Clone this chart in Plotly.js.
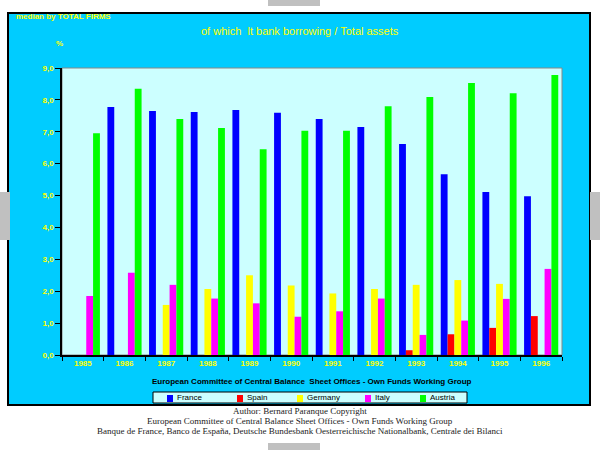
<!DOCTYPE html>
<html><head><meta charset="utf-8">
<script src="https://cdn.plot.ly/plotly-3.0.1.min.js"></script>
<style>body{margin:0;background:#fff}</style></head>
<body><div id="c" style="width:600px;height:450px"></div>
<script>
const years = ["1985","1986","1987","1988","1989","1990","1991","1992","1993","1994","1995","1996"];
const france  = [null,7.78,7.65,7.62,7.68,7.6,7.4,7.15,6.62,5.67,5.11,4.98];
const spain   = [null,null,null,null,null,null,null,null,0.15,0.65,0.85,1.22];
const germany = [null,null,1.57,2.07,2.5,2.18,1.93,2.07,2.2,2.35,2.23,null];
const italy   = [1.85,2.58,2.2,1.77,1.62,1.2,1.37,1.77,0.63,1.08,1.76,2.7];
const austria = [6.95,8.35,7.4,7.12,6.45,7.03,7.03,7.8,8.09,8.53,8.21,8.78];
const yTicks = [0,1,2,3,4,5,6,7,8,9];
const yTickText = yTicks.map(v=>v.toFixed(1).replace('.',','));
const names = ["France","Spain","Germany","Italy","Austria"];
const colors = ["#0000FF","#FF0000","#FFFF00","#FF00FF","#00FF00"];
const values = [france,spain,germany,italy,austria];

const traces = names.map((n,i)=>({type:'bar',name:n,x:years,y:values[i],marker:{color:colors[i],line:{width:0}}}));

const X=px=>(px-62)/500, Y=py=>(355-py)/287;
const rect=(x0,y0,x1,y1,fill,line,layer)=>({type:'rect',xref:'paper',yref:'paper',layer:layer||'below',x0:X(x0),x1:X(x1),y0:Y(y1),y1:Y(y0),fillcolor:fill,line:line||{width:0}});
const ann=(px,py,t,f,anchor)=>({xref:'paper',yref:'paper',x:X(px),y:Y(py),text:t,showarrow:false,xanchor:anchor||'left',yanchor:'middle',font:f});
const yb={family:'Liberation Sans, Arial',size:8,color:'#FFFF00',weight:'bold'};
const serif={family:'Liberation Serif, Times New Roman',size:9,color:'#222'};
const lf={family:'Liberation Sans, Arial',size:8,color:'#000'};

const legX=[167,237,297,365,420];
const shapes=[
  rect(8,13,590,405,'#00CCFF',{color:'#000',width:2}),
  rect(62,68,562,355,'#CCFFFF',{color:'#888',width:1}),
  rect(268,0,320,6,'#C0C0C0'),rect(268,443,320,450,'#C0C0C0'),
  rect(0,192,10,240,'#C0C0C0'),rect(590,192,600,240,'#C0C0C0'),
  rect(153,392,467,403,'#CCFFFF',{color:'#000',width:1},'above')
];
const anns=[
  ann(14,17,'median by TOTAL FIRMS',yb),
  ann(300,31,'of which  lt bank borrowing / Total assets',{family:'Liberation Sans, Arial',size:11,color:'#FFFF00'},'center'),
  ann(54,43,'%',yb),
  ann(312,381,'European Committee of Central Balance  Sheet Offices - Own Funds Working Group',{family:'Liberation Sans, Arial',size:8,color:'#000',weight:'bold'},'center'),
  ann(300,411,'Author: Bernard Paranque Copyright',serif,'center'),
  ann(300,421,'European Committee of Central Balance Sheet Offices - Own Funds Working Group',serif,'center'),
  ann(300,431,'Banque de France, Banco de España, Deutsche Bundesbank Oesterreichische Nationalbank, Centrale dei Bilanci',serif,'center')
];
names.forEach((n,i)=>{
  shapes.push(rect(legX[i],395,legX[i]+6,402,colors[i],{width:0},'above'));
  anns.push(ann(legX[i]+8,397,n,lf));
});

Plotly.newPlot('c',traces,{
  width:600,height:450,margin:{l:62,r:38,t:68,b:95},
  paper_bgcolor:'#fff',plot_bgcolor:'rgba(0,0,0,0)',
  barmode:'group',bargap:0.18,bargroupgap:0,showlegend:false,
  xaxis:{type:'category',tickson:'boundaries',ticks:'outside',ticklen:4,tickcolor:'#000',showline:true,linecolor:'#000',linewidth:1.5,showgrid:false,tickfont:yb},
  yaxis:{range:[0,9],tickvals:yTicks,ticktext:yTickText,ticks:'outside',ticklen:5,tickcolor:'#000',showline:true,linecolor:'#000',linewidth:1.5,showgrid:false,zeroline:false,tickfont:yb},
  shapes:shapes,annotations:anns
},{displayModeBar:false});
</script></body></html>
